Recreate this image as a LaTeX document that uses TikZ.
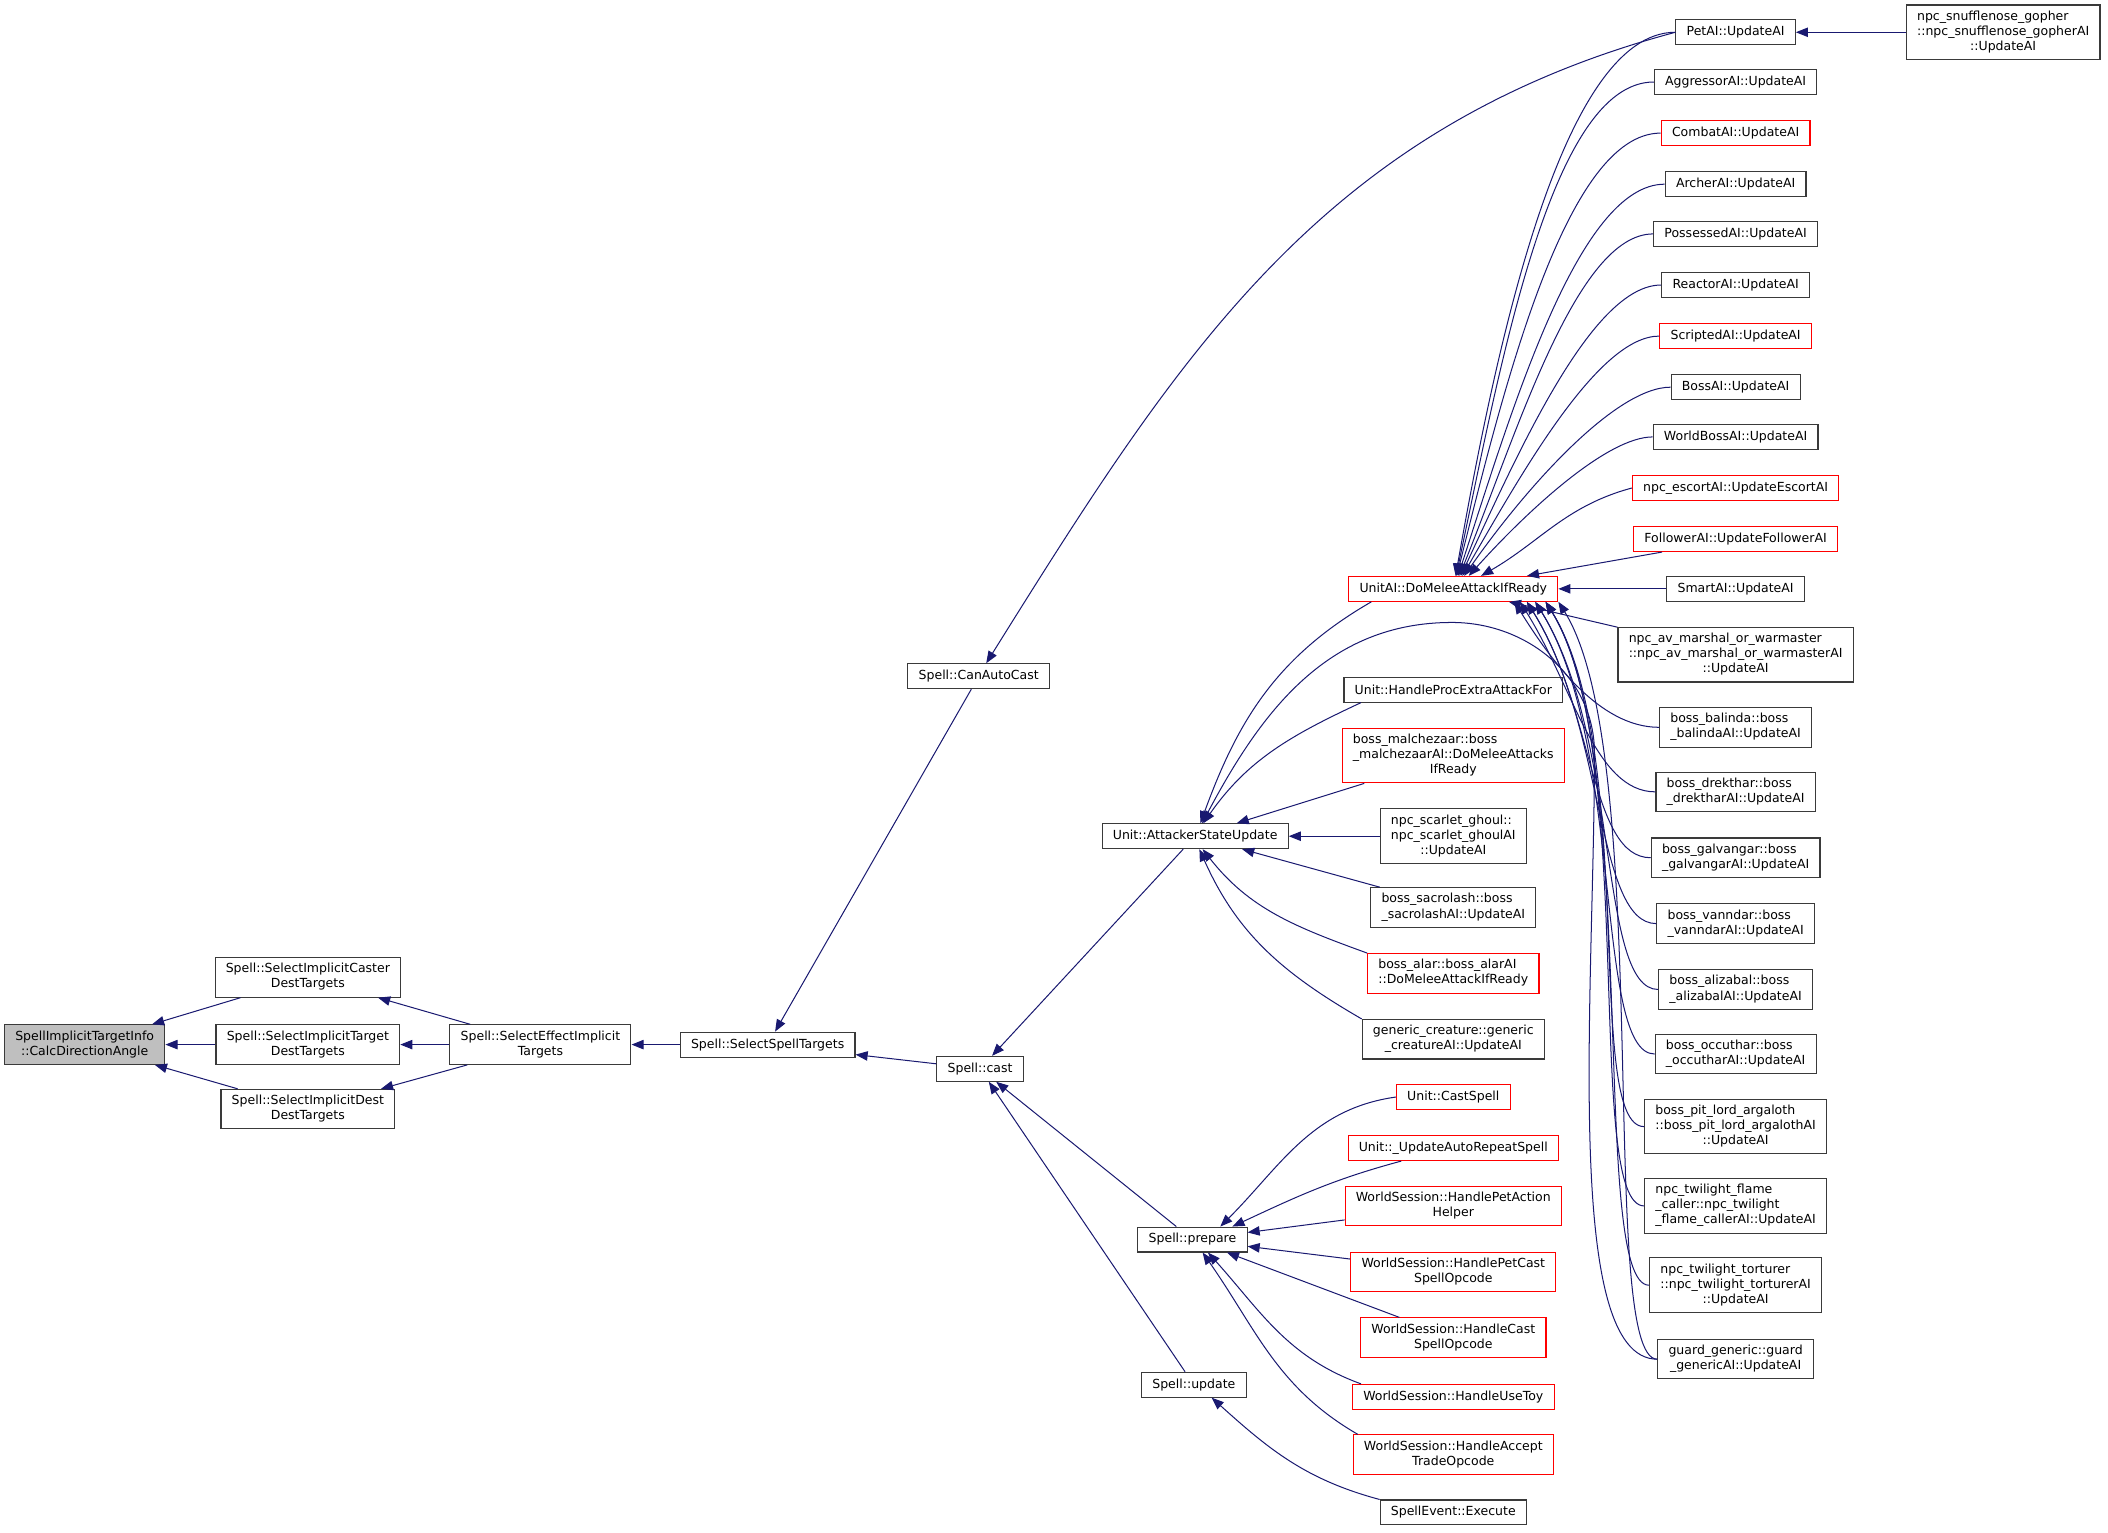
\documentclass[tikz,border=0pt]{standalone}
\usepackage{fontspec}
\setmainfont{DejaVu Sans}
\usetikzlibrary{arrows.meta}
\definecolor{edgeblue}{HTML}{191970}
\definecolor{rootgray}{HTML}{BFBFBF}
\definecolor{boxline}{HTML}{3A3A3A}
\newcommand{\twol}[2]{\begin{tabular}{@{}l@{}}#1\\\multicolumn{1}{@{}c@{}}{#2}\end{tabular}}
\newcommand{\threel}[3]{\begin{tabular}{@{}l@{}}#1\\#2\\\multicolumn{1}{@{}c@{}}{#3}\end{tabular}}

\begin{document}
\begin{tikzpicture}[x=1pt,y=1pt,font=\fontsize{9.3}{11.2}\selectfont,fn/.style={draw=#1,line width=0.8pt,fill=white,minimum height=18.5pt,inner xsep=8pt,inner ysep=3.5pt},fn/.default=boxline,arr/.style={-{Triangle[length=9pt,width=7pt]},edgeblue,line width=0.75pt},topfan/.style={out=180,in=#1,out looseness=0.5,in looseness=1},lowfan/.style={out=180,in=-58,out distance=45pt,in distance=#1}]
\useasboundingbox (0,0) rectangle (1568,-1140);
% callee side
\node[fn,fill=rootgray](root) at (63,-777){\twol{SpellImplicitTargetInfo}{::CalcDirectionAngle}};
\node[fn](caster) at (229,-727){\twol{Spell::SelectImplicitCaster}{DestTargets}};
\node[fn](target) at (229,-777){\twol{Spell::SelectImplicitTarget}{DestTargets}};
\node[fn](dest) at (229,-825){\twol{Spell::SelectImplicitDest}{DestTargets}};
\node[fn](sei) at (402,-777){\twol{Spell::SelectEffectImplicit}{Targets}};
\node[fn](sst) at (571,-777){Spell::SelectSpellTargets};
\node[fn](cac) at (728,-503){Spell::CanAutoCast};
\node[fn](cast) at (729,-795){Spell::cast};
\node[fn](asu) at (889,-622){Unit::AttackerStateUpdate};
\node[fn](prepare) at (887,-922){Spell::prepare};
\node[fn](update) at (888,-1030){Spell::update};
% middle column
\node[fn=red](unitai) at (1081,-438){UnitAI::DoMeleeAttackIfReady};
\node[fn](hpe) at (1081,-513){Unit::HandleProcExtraAttackFor};
\node[fn=red](malch) at (1081,-562){\threel{boss\_malchezaar::boss}{\_malchezaarAI::DoMeleeAttacks}{IfReady}};
\node[fn](ghoul) at (1081,-622){\threel{npc\_scarlet\_ghoul::}{npc\_scarlet\_ghoulAI}{::UpdateAI}};
\node[fn](sacro) at (1081,-675){\twol{boss\_sacrolash::boss}{\_sacrolashAI::UpdateAI}};
\node[fn=red](alar) at (1081,-724){\twol{boss\_alar::boss\_alarAI}{::DoMeleeAttackIfReady}};
\node[fn](gen) at (1081,-773){\twol{generic\_creature::generic}{\_creatureAI::UpdateAI}};
\node[fn=red](castspell) at (1081,-816){Unit::CastSpell};
\node[fn=red](uars) at (1081,-854){Unit::\_UpdateAutoRepeatSpell};
\node[fn=red](petaction) at (1081,-897){\twol{WorldSession::HandlePetAction}{Helper}};
\node[fn=red](petcast) at (1081,-946){\twol{WorldSession::HandlePetCast}{SpellOpcode}};
\node[fn=red](castop) at (1081,-995){\twol{WorldSession::HandleCast}{SpellOpcode}};
\node[fn=red](usetoy) at (1081,-1039){WorldSession::HandleUseToy};
\node[fn=red](accept) at (1081,-1082){\twol{WorldSession::HandleAccept}{TradeOpcode}};
\node[fn](execute) at (1081,-1125){SpellEvent::Execute};
% right column
\node[fn](petai) at (1291,-24){PetAI::UpdateAI};
\node[fn](snuffle) at (1490,-24){\threel{npc\_snufflenose\_gopher}{::npc\_snufflenose\_gopherAI}{::UpdateAI}};
\node[fn](aggressor) at (1291,-61){AggressorAI::UpdateAI};
\node[fn=red](combat) at (1291,-99){CombatAI::UpdateAI};
\node[fn](archer) at (1291,-137){ArcherAI::UpdateAI};
\node[fn](possessed) at (1291,-174){PossessedAI::UpdateAI};
\node[fn](reactor) at (1291,-212){ReactorAI::UpdateAI};
\node[fn=red](scripted) at (1291,-250){ScriptedAI::UpdateAI};
\node[fn](bossai) at (1291,-288){BossAI::UpdateAI};
\node[fn](worldboss) at (1291,-325){WorldBossAI::UpdateAI};
\node[fn=red](escort) at (1291,-363){npc\_escortAI::UpdateEscortAI};
\node[fn=red](follower) at (1291,-401){FollowerAI::UpdateFollowerAI};
\node[fn](smart) at (1291,-438){SmartAI::UpdateAI};
\node[fn](marshal) at (1291,-487){\threel{npc\_av\_marshal\_or\_warmaster}{::npc\_av\_marshal\_or\_warmasterAI}{::UpdateAI}};
\node[fn](balinda) at (1291,-541){\twol{boss\_balinda::boss}{\_balindaAI::UpdateAI}};
\node[fn](drekthar) at (1291,-589){\twol{boss\_drekthar::boss}{\_drektharAI::UpdateAI}};
\node[fn](galvangar) at (1291,-638){\twol{boss\_galvangar::boss}{\_galvangarAI::UpdateAI}};
\node[fn](vanndar) at (1291,-687){\twol{boss\_vanndar::boss}{\_vanndarAI::UpdateAI}};
\node[fn](alizabal) at (1291,-736){\twol{boss\_alizabal::boss}{\_alizabalAI::UpdateAI}};
\node[fn](occuthar) at (1291,-784){\twol{boss\_occuthar::boss}{\_occutharAI::UpdateAI}};
\node[fn](pitlord) at (1291,-838){\threel{boss\_pit\_lord\_argaloth}{::boss\_pit\_lord\_argalothAI}{::UpdateAI}};
\node[fn](flame) at (1291,-897){\threel{npc\_twilight\_flame}{\_caller::npc\_twilight}{\_flame\_callerAI::UpdateAI}};
\node[fn](torturer) at (1291,-956){\threel{npc\_twilight\_torturer}{::npc\_twilight\_torturerAI}{::UpdateAI}};
\node[fn](guard) at (1291,-1011){\twol{guard\_generic::guard}{\_genericAI::UpdateAI}};
% calls, arrow at the callee
\draw[arr](caster)--(root);\draw[arr](target)--(root);\draw[arr](dest)--(root);
\draw[arr](sei)--(caster);\draw[arr](sei)--(target);\draw[arr](sei)--(dest);
\draw[arr](sst)--(sei);\draw[arr](cac)--(sst);\draw[arr](cast)--(sst);
\draw[arr](petai.west) to[out=195,in=58] (cac.60);
\draw[arr](asu)--(cast);\draw[arr](prepare)--(cast);\draw[arr](update)--(cast);
\draw[arr](unitai.-171) to[out=-150,in=70] (asu.68);
\draw[arr](hpe.-172) to[out=-155,in=55] (asu.58);
\draw[arr](malch)--(asu);\draw[arr](ghoul)--(asu);\draw[arr](sacro)--(asu);
\draw[arr](alar.north west) to[out=160,in=-52] (asu.-60);
\draw[arr](gen.north west) to[out=150,in=-66] (asu.-72);
\draw[arr](castspell.west) to[out=188,in=45] (prepare.25);
\draw[arr](uars.-166) to[out=195,in=25] (prepare.18);
\draw[arr](petaction)--(prepare);\draw[arr](petcast)--(prepare);\draw[arr](castop)--(prepare);
\draw[arr](usetoy.172) to[out=160,in=-48] (prepare.-40);
\draw[arr](accept.168) to[out=150,in=-55] (prepare.-52);
\draw[arr](execute.north west) to[out=165,in=-42] (update.-36);
\draw[arr](snuffle)--(petai);
\draw[arr](petai.west) to[topfan=80] (unitai.80);
\draw[arr](aggressor.west) to[topfan=78] (unitai.78);
\draw[arr](combat.west) to[topfan=76] (unitai.75);
\draw[arr](archer.west) to[topfan=72] (unitai.70);
\draw[arr](possessed.west) to[topfan=68] (unitai.65);
\draw[arr](reactor.west) to[topfan=65] (unitai.60);
\draw[arr](scripted.west) to[topfan=60] (unitai.55);
\draw[arr](bossai.west) to[topfan=55] (unitai.50);
\draw[arr](worldboss.west) to[topfan=48] (unitai.40);
\draw[arr](escort.west) to[out=195,in=30] (unitai.25);
\draw[arr](follower)--(unitai);\draw[arr](smart)--(unitai);\draw[arr](marshal)--(unitai);
\draw[arr](balinda.west) to[lowfan=50pt] (unitai.-12);
\draw[arr](drekthar.west) to[lowfan=75pt] (unitai.-11);
\draw[arr](galvangar.west) to[lowfan=95pt] (unitai.-10);
\draw[arr](vanndar.west) to[lowfan=110pt] (unitai.-10);
\draw[arr](alizabal.west) to[lowfan=120pt] (unitai.-9);
\draw[arr](occuthar.west) to[lowfan=125pt] (unitai.-9);
\draw[arr](pitlord.west) to[lowfan=130pt] (unitai.-8.5);
\draw[arr](flame.west) to[lowfan=130pt] (unitai.-8);
\draw[arr](torturer.west) to[lowfan=135pt] (unitai.-8);
\draw[arr](guard.west) to[lowfan=135pt] (unitai.-7.5);
\draw[arr](guard.west) to[out=180,in=-90,out looseness=0.4] (1186,-560) to[out=90,in=0] (1080,-463) to[out=180,in=62] (asu.62);
\end{tikzpicture}
\end{document}
